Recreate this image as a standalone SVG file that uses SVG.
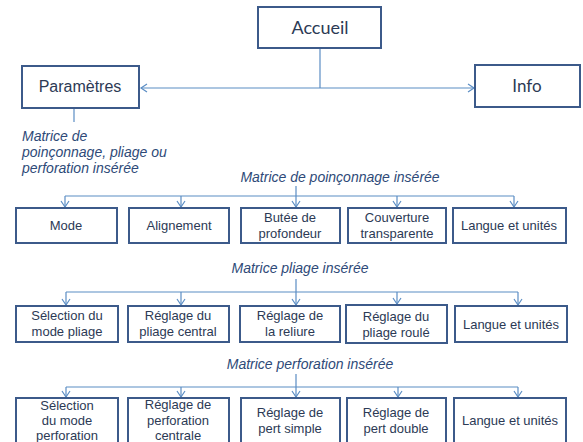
<svg xmlns="http://www.w3.org/2000/svg" width="583" height="442" viewBox="0 0 583 442">
<style>
.bx{fill:#fff;stroke:#3c5a8a;stroke-width:2}
.t{font-family:"Liberation Sans",Arial,sans-serif;font-size:13px;fill:#2c3a55;text-anchor:middle}
.tc{font-family:Lato,"Open Sans",sans-serif;fill:#2c3a55;text-anchor:middle}
.lb{font-family:"Liberation Sans",Arial,sans-serif;font-size:14px;font-style:italic;fill:#2e4a78}
.c{fill:none;stroke:#5b8dc4;stroke-width:1.2}
.ca{fill:none;stroke:#5b8dc4;stroke-width:1.2;marker-end:url(#ah)}
</style>
<defs>
<marker id="ah" markerUnits="userSpaceOnUse" markerWidth="12" markerHeight="12" refX="7" refY="5" orient="auto-start-reverse" viewBox="0 0 12 12">
<path d="M1,1 L7,5 L1,9" fill="none" stroke="#5b8dc4" stroke-width="1.2"/>
</marker>
</defs>
<rect width="583" height="442" fill="#fff"/>
<g id="connectors">
<path class="c" d="M320,48 V88"/>
<path class="c" d="M141,88 H474" style="marker-start:url(#ah);marker-end:url(#ah)"/>
<path class="c" d="M74,109 V122"/>
<path class="c" d="M296,186 V196 M65,196 H514"/>
<path class="ca" d="M65,196 V207"/><path class="ca" d="M181,196 V207"/><path class="ca" d="M296,196 V207"/><path class="ca" d="M397,196 V207"/><path class="ca" d="M514,196 V207"/>
<path class="c" d="M296,279 V292 M66,292 H518"/>
<path class="ca" d="M66,292 V305"/><path class="ca" d="M181,292 V305"/><path class="ca" d="M296,292 V305"/><path class="ca" d="M397,292 V304"/><path class="ca" d="M518,292 V305"/>
<path class="c" d="M296,374 V387 M66,387 H518"/>
<path class="ca" d="M66,387 V397"/><path class="ca" d="M181,387 V397"/><path class="ca" d="M296,387 V397"/><path class="ca" d="M398,387 V397"/><path class="ca" d="M518,387 V397"/>
</g>
<g id="accueil"><rect class="bx" x="258" y="7" width="123" height="41"/><text class="tc" x="320" y="34" font-size="18">Accueil</text></g>
<g id="parametres"><rect class="bx" x="22" y="66" width="117" height="42"/><text class="t" x="80" y="92" font-size="16" style="font-size:16px">Paramètres</text></g>
<g id="info"><rect class="bx" x="475" y="65" width="105" height="42"/><text class="tc" x="527" y="92" font-size="17">Info</text></g>
<g id="label-params"><text class="lb" x="22" y="141">Matrice de</text><text class="lb" x="22" y="157">poinçonnage, pliage ou</text><text class="lb" x="22" y="173">perforation insérée</text></g>
<g id="label-poinconnage"><text class="lb" x="340" y="182" text-anchor="middle">Matrice de poinçonnage insérée</text></g>
<g id="label-pliage"><text class="lb" x="300" y="273" text-anchor="middle">Matrice pliage insérée</text></g>
<g id="label-perforation"><text class="lb" x="310" y="369" text-anchor="middle">Matrice perforation insérée</text></g>
<g id="r1-mode"><rect class="bx" x="16" y="208" width="101" height="35"/><text class="t" x="66" y="230">Mode</text></g>
<g id="r1-alignement"><rect class="bx" x="129" y="208" width="100" height="35"/><text class="t" x="179" y="230">Alignement</text></g>
<g id="r1-butee"><rect class="bx" x="241" y="208" width="99" height="35"/><text class="t" x="290" y="222">Butée de</text><text class="t" x="290" y="238">profondeur</text></g>
<g id="r1-couverture"><rect class="bx" x="348" y="208" width="98" height="35"/><text class="t" x="397" y="222">Couverture</text><text class="t" x="397" y="238">transparente</text></g>
<g id="r1-langue"><rect class="bx" x="453" y="208" width="113" height="35"/><text class="t" x="509" y="230">Langue et unités</text></g>
<g id="r2-selection"><rect class="bx" x="16" y="306" width="102" height="36"/><text class="t" x="67" y="320">Sélection du</text><text class="t" x="67" y="336">mode pliage</text></g>
<g id="r2-central"><rect class="bx" x="128" y="306" width="101" height="36"/><text class="t" x="178" y="320">Réglage du</text><text class="t" x="178" y="336">pliage central</text></g>
<g id="r2-reliure"><rect class="bx" x="240" y="306" width="100" height="36"/><text class="t" x="290" y="320">Réglage de</text><text class="t" x="290" y="336">la reliure</text></g>
<g id="r2-roule"><rect class="bx" x="346" y="305" width="101" height="38"/><text class="t" x="396" y="321">Réglage du</text><text class="t" x="396" y="337">pliage roulé</text></g>
<g id="r2-langue"><rect class="bx" x="455" y="306" width="112" height="36"/><text class="t" x="511" y="329">Langue et unités</text></g>
<g id="r3-selection"><rect class="bx" x="16" y="398" width="102" height="46"/><text class="t" x="67" y="410">Sélection</text><text class="t" x="67" y="425">du mode</text><text class="t" x="67" y="440">perforation</text></g>
<g id="r3-centrale"><rect class="bx" x="128" y="398" width="101" height="46"/><text class="t" x="178" y="409">Réglage de</text><text class="t" x="178" y="425">perforation</text><text class="t" x="178" y="440">centrale</text></g>
<g id="r3-simple"><rect class="bx" x="241" y="398" width="99" height="46"/><text class="t" x="290" y="417">Réglage de</text><text class="t" x="290" y="433">pert simple</text></g>
<g id="r3-double"><rect class="bx" x="347" y="398" width="99" height="46"/><text class="t" x="396" y="417">Réglage de</text><text class="t" x="396" y="433">pert double</text></g>
<g id="r3-langue"><rect class="bx" x="454" y="398" width="112" height="46"/><text class="t" x="510" y="425">Langue et unités</text></g>
</svg>
